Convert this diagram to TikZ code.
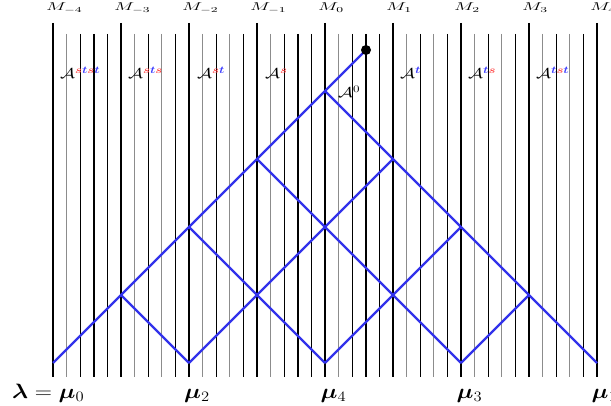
\documentclass[tikz,border=0pt]{standalone}
\usepackage{amsmath,amssymb,bm}
\usepackage{graphicx}
\definecolor{latblue}{RGB}{50,50,235}
\definecolor{sred}{RGB}{255,70,70}
\definecolor{tblue}{RGB}{60,60,255}
\newcommand{\ssym}{{\color{sred}\bm{s}}}
\newcommand{\tsym}{{\color{tblue}\bm{t}}}
\newcommand{\mtext}[1]{\scalebox{1.6}[0.95]{$#1$}}
\newcommand{\atext}[1]{\scalebox{1.3}[1.0]{$\mathcal{A}^{#1}$}}
\newcommand{\btext}[1]{\scalebox{1.15}[1.0]{$#1$}}
\begin{document}
\begin{tikzpicture}[x=1pt,y=-1pt,
  wallthick/.style={line width=2.8pt,black},
  wallgray/.style={line width=1pt,black!45},
  wallblack/.style={line width=1pt,black},
  wallmid/.style={line width=1.6pt,black},
  latline/.style={line width=2.2pt,latblue},
  mlab/.style={anchor=base west,inner sep=0pt,font=\large},
  alab/.style={anchor=base west,inner sep=0pt,font=\Large},
  blab/.style={anchor=base west,inner sep=0pt,font=\huge}]
\useasboundingbox (0,0) rectangle (611,406);
% thin walls
\foreach \k/\st in {0/wallmid,1/wallgray,2/wallgray,3/wallmid,4/wallmid,5/wallgray,6/wallgray,7/wallgray}{
  \pgfmathsetmacro{\xa}{53+68*\k+13.6}
  \pgfmathsetmacro{\xb}{53+68*\k+27.2}
  \pgfmathsetmacro{\xc}{53+68*\k+40.8}
  \pgfmathsetmacro{\xd}{53+68*\k+54.4}
  \draw[wallgray] (\xa,34) -- (\xa,377);
  \draw[wallblack] (\xb,34) -- (\xb,377);
  \draw[\st] (\xc,34) -- (\xc,377);
  \draw[wallblack] (\xd,34) -- (\xd,377);
}
% thick walls
\foreach \k in {0,...,8}{
  \pgfmathsetmacro{\xx}{53+68*\k}
  \draw[wallthick] (\xx,23) -- (\xx,377);
}
% M labels
\foreach \k/\i in {0/-4,1/-3,2/-2,3/-1,4/0,5/1,6/2,7/3,8/4}{
  \pgfmathsetmacro{\xx}{53+68*\k-7}
  \node[mlab] (m\k) at (\xx,10.5) {\mtext{M_{\i}}};
}
% alcove labels
\node[alab] (a0) at (60,79) {\atext{\ssym\tsym\ssym\tsym}};
\node[alab] (a1) at (128,79) {\atext{\ssym\tsym\ssym}};
\node[alab] (a2) at (197,79) {\atext{\ssym\tsym}};
\node[alab] (a3) at (265,79) {\atext{\ssym}};
\node[alab] (a4) at (338,98) {\atext{0}};
\node[alab] (a5) at (400,79) {\atext{\tsym}};
\node[alab] (a6) at (468,79) {\atext{\tsym\ssym}};
\node[alab] (a7) at (536,79) {\atext{\tsym\ssym\tsym}};
% lattice points
\coordinate (v00) at (325,91);
\coordinate (v10) at (257,159);
\coordinate (v11) at (393,159);
\coordinate (v20) at (189,227);
\coordinate (v21) at (325,227);
\coordinate (v22) at (461,227);
\coordinate (v30) at (121,295);
\coordinate (v31) at (257,295);
\coordinate (v32) at (393,295);
\coordinate (v33) at (529,295);
\coordinate (v40) at (53,363);
\coordinate (v41) at (189,363);
\coordinate (v42) at (325,363);
\coordinate (v43) at (461,363);
\coordinate (v44) at (597,363);
\coordinate (tip) at (366,50);
% up-right lines
\draw[latline] (v40) -- (v00) -- (tip);
\draw[latline] (v41) -- (v11);
\draw[latline] (v42) -- (v22);
\draw[latline] (v43) -- (v33);
% down-right lines
\draw[latline] (v00) -- (v44);
\draw[latline] (v10) -- (v43);
\draw[latline] (v20) -- (v42);
\draw[latline] (v30) -- (v41);
\fill[black] (tip) circle (5);
% weight labels
\node[blab] (b0) at (12,398) {\btext{\bm{\lambda}=\bm{\mu}_0}};
\node[blab] (b2) at (184,398) {\btext{\bm{\mu}_2}};
\node[blab] (b4) at (320.5,398) {\btext{\bm{\mu}_4}};
\node[blab] (b3) at (456.5,398) {\btext{\bm{\mu}_3}};
\node[blab] (b1) at (591.5,398) {\btext{\bm{\mu}_1}};
\end{tikzpicture}
\end{document}
